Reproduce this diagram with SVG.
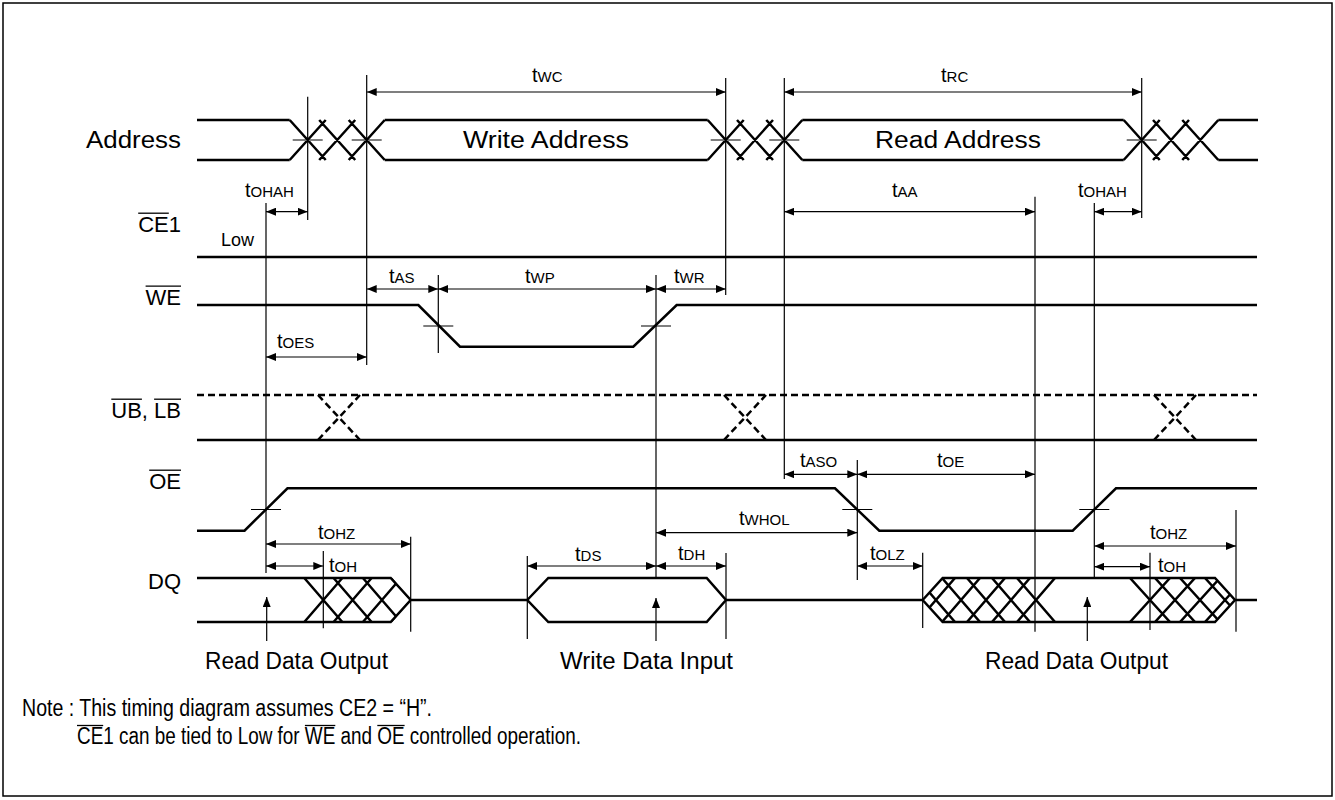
<svg xmlns="http://www.w3.org/2000/svg" width="1335" height="800" viewBox="0 0 1335 800">
<style>
.bus{stroke:#000;stroke-width:2.5;fill:none;stroke-linejoin:miter}
.thin{stroke:#000;stroke-width:1.2;fill:none}
.dash{stroke:#000;stroke-width:2.5;fill:none;stroke-dasharray:7 4}
.dim{stroke:#000;stroke-width:1.2;fill:none;marker-start:url(#ah);marker-end:url(#ah)}
.up{stroke:#000;stroke-width:1.2;fill:none;marker-end:url(#ah)}
.lbl{font-family:"Liberation Sans",Arial,sans-serif;font-size:23px;fill:#000}
.sig{font-family:"Liberation Sans",Arial,sans-serif;font-size:22px;fill:#000;text-anchor:end}
.t{font-family:"Liberation Sans",Arial,sans-serif;font-size:20px;fill:#000}
.s{font-size:15px}
.ol{stroke:#000;stroke-width:1.3}
</style>
<defs>
<marker id="ah" viewBox="0 0 10 8" refX="10" refY="4" markerWidth="10" markerHeight="8" markerUnits="userSpaceOnUse" orient="auto-start-reverse"><path d="M0,0 L10,4 L0,8 z" fill="#000"/></marker>
<clipPath id="cl1"><path d="M190,576 L390.7,576 L410.7,600 L390.7,624 L190,624 Z"/></clipPath>
<clipPath id="cl2"><path d="M922.7,600 L942.7,578 L1215,578 L1235,600 L1215,622 L942.7,622 Z"/></clipPath>
</defs>
<rect x="3" y="3" width="1329" height="793" fill="#fff" stroke="#000" stroke-width="1.5"/>

<g id="address">
<path class="bus" d="M197,120 H289.7 M384.7,120 H707.7 M802.3,120 H1123.7 M1218.3,120 H1258 M197,160 H289.7 M384.7,160 H707.7 M802.3,160 H1123.7 M1218.3,160 H1258"/>
<path class="bus" d="M289.7,120 L325.7,160 M289.7,160 L325.7,120 M319.2,120 L355.2,160 M319.2,160 L355.2,120 M348.7,120 L384.7,160 M348.7,160 L384.7,120 M707.7,120 L743.7,160 M707.7,160 L743.7,120 M737,120 L773,160 M737,160 L773,120 M766.3,120 L802.3,160 M766.3,160 L802.3,120 M1123.7,120 L1159.7,160 M1123.7,160 L1159.7,120 M1153,120 L1189,160 M1153,160 L1189,120 M1182.3,120 L1218.3,160 M1182.3,160 L1218.3,120"/>
<path class="thin" d="M292.7,140 H322.7 M351.7,140 H381.7 M710.7,140 H740.7 M769.3,140 H799.3 M1126.7,140 H1156.7"/>
<text class="lbl" x="86" y="148" textLength="95" lengthAdjust="spacingAndGlyphs">Address</text>
<text class="lbl" x="463" y="148" textLength="166" lengthAdjust="spacingAndGlyphs">Write Address</text>
<text class="lbl" x="875" y="148" textLength="166" lengthAdjust="spacingAndGlyphs">Read Address</text>
</g>

<g id="ce1">
<path class="bus" d="M197,257 H1257"/>
<text class="sig" x="181" y="232">CE1</text>
<line class="ol" x1="138.2" y1="213.2" x2="168.8" y2="213.2"/>
<text class="lbl" x="221" y="246" style="font-size:18px">Low</text>
</g>

<g id="we">
<path class="bus" d="M197,305 L418.3,305 L460,346.7 L633.3,346.7 L676.7,305 L1257,305"/>
<path class="thin" d="M423.3,326 H453.3 M641,326 H671"/>
<text class="sig" x="181" y="305">WE</text>
<line class="ol" x1="145.6" y1="286.2" x2="181" y2="286.2"/>
</g>

<g id="ublb">
<path class="dash" d="M197,395 H1257"/>
<path class="bus" d="M197,440 H1257"/>
<path class="dash" d="M318,395 L360,440 M318,440 L360,395 M724,395 L766,440 M724,440 L766,395 M1154,395 L1196,440 M1154,440 L1196,395"/>
<text class="sig" x="181" y="418">UB, LB</text>
<line class="ol" x1="111.3" y1="399.2" x2="141.9" y2="399.2"/>
<line class="ol" x1="154.1" y1="399.2" x2="181" y2="399.2"/>
</g>

<g id="oe">
<path class="bus" d="M197,530.7 L244.5,530.7 L287.5,488.3 L835,488.3 L879.3,530.7 L1072.7,530.7 L1116,488.3 L1257,488.3"/>
<path class="thin" d="M251,509.5 H281 M842.3,509.5 H872.3 M1079.3,509.5 H1109.3"/>
<text class="sig" x="181" y="489">OE</text>
<line class="ol" x1="149.2" y1="470.2" x2="181" y2="470.2"/>
</g>

<g id="dq">
<path class="bus" d="M197,578 L390.7,578 L410.7,600 L390.7,622 L197,622 M410.7,600 L527.3,600"/>
<path class="bus" d="M527.3,600 L548.3,578 L706.7,578 L726,600 L706.7,622 L548.3,622 Z M726,600 L922.7,600"/>
<path class="bus" d="M922.7,600 L942.7,578 L1215,578 L1235,600 L1215,622 L942.7,622 Z M1235,600 L1257,600"/>
<g clip-path="url(#cl1)">
<path class="bus" d="M304.3,578 L342.3,622 M304.3,622 L342.3,578 M333.6,578 L371.6,622 M333.6,622 L371.6,578 M362.9,578 L400.9,622 M362.9,622 L400.9,578 M392.2,578 L430.2,622 M392.2,622 L430.2,578"/>
</g>
<g clip-path="url(#cl2)">
<path class="bus" d="M917,578 L955,622 M917,622 L955,578 M942,578 L980,622 M942,622 L980,578 M967,578 L1005,622 M967,622 L1005,578 M992,578 L1030,622 M992,622 L1030,578 M1017,578 L1055,622 M1017,622 L1055,578"/>
<path class="bus" d="M1130,578 L1170,622 M1130,622 L1170,578 M1155,578 L1195,622 M1155,622 L1195,578 M1180,578 L1220,622 M1180,622 L1220,578 M1205,578 L1245,622 M1205,622 L1245,578"/>
</g>
<text class="sig" x="181" y="589">DQ</text>
<text class="lbl" x="205" y="669" textLength="183" lengthAdjust="spacingAndGlyphs">Read Data Output</text>
<text class="lbl" x="560" y="669" textLength="173" lengthAdjust="spacingAndGlyphs">Write Data Input</text>
<text class="lbl" x="985" y="669" textLength="183" lengthAdjust="spacingAndGlyphs">Read Data Output</text>
</g>

<g id="connectors">
<path class="thin" d="M307.7,96.7 V220 M366.7,75 V365 M725.7,78 V295 M784.3,78 V479 M1141.7,78 V218 M266,203 V573 M438.3,275 V353 M656,275 V577 M857.3,460 V580 M1035,196.7 V631.7 M1094.3,203 V577 M410.7,536.7 V631.7 M323.3,551 V628.3 M527.3,556 V639 M726,553 V639 M922.7,552.7 V628 M1236,510 V631.7 M1150,552.7 V630"/>
<line class="dim" x1="366.7" y1="92" x2="725.7" y2="92"/>
<line class="dim" x1="784.3" y1="92" x2="1141.7" y2="92"/>
<line class="dim" x1="266" y1="211.7" x2="307.7" y2="211.7"/>
<line class="dim" x1="784.3" y1="211.7" x2="1035" y2="211.7"/>
<line class="dim" x1="1094.3" y1="211.7" x2="1141.7" y2="211.7"/>
<line class="dim" x1="366.7" y1="289" x2="438.3" y2="289"/>
<line class="dim" x1="438.3" y1="289" x2="656" y2="289"/>
<line class="dim" x1="656" y1="289" x2="725.7" y2="289"/>
<line class="dim" x1="266" y1="357" x2="366.7" y2="357"/>
<line class="dim" x1="784.3" y1="474.3" x2="857.3" y2="474.3"/>
<line class="dim" x1="857.3" y1="474.3" x2="1035" y2="474.3"/>
<line class="dim" x1="656" y1="532.7" x2="857.3" y2="532.7"/>
<line class="dim" x1="266" y1="544" x2="410.7" y2="544"/>
<line class="dim" x1="266" y1="566" x2="323.3" y2="566"/>
<line class="dim" x1="527.3" y1="566" x2="656" y2="566"/>
<line class="dim" x1="656" y1="566" x2="726" y2="566"/>
<line class="dim" x1="857.3" y1="566" x2="922.7" y2="566"/>
<line class="dim" x1="1094.3" y1="546" x2="1236" y2="546"/>
<line class="dim" x1="1094.3" y1="566.7" x2="1150" y2="566.7"/>
<line class="up" x1="266.7" y1="641" x2="266.7" y2="597"/>
<line class="up" x1="656" y1="641" x2="656" y2="598"/>
<line class="up" x1="1087.3" y1="641" x2="1087.3" y2="597"/>
</g>

<g id="timing-labels">
<text class="t" x="532" y="82">t<tspan class="s">WC</tspan></text>
<text class="t" x="941" y="82">t<tspan class="s">RC</tspan></text>
<text class="t" x="245" y="197">t<tspan class="s">OHAH</tspan></text>
<text class="t" x="892" y="197">t<tspan class="s">AA</tspan></text>
<text class="t" x="1078" y="197">t<tspan class="s">OHAH</tspan></text>
<text class="t" x="389" y="283">t<tspan class="s">AS</tspan></text>
<text class="t" x="525" y="283">t<tspan class="s">WP</tspan></text>
<text class="t" x="674" y="283">t<tspan class="s">WR</tspan></text>
<text class="t" x="277" y="348">t<tspan class="s">OES</tspan></text>
<text class="t" x="800" y="467">t<tspan class="s">ASO</tspan></text>
<text class="t" x="937" y="467">t<tspan class="s">OE</tspan></text>
<text class="t" x="739" y="525">t<tspan class="s">WHOL</tspan></text>
<text class="t" x="318" y="539">t<tspan class="s">OHZ</tspan></text>
<text class="t" x="329" y="572">t<tspan class="s">OH</tspan></text>
<text class="t" x="575" y="561">t<tspan class="s">DS</tspan></text>
<text class="t" x="678" y="560">t<tspan class="s">DH</tspan></text>
<text class="t" x="870" y="560">t<tspan class="s">OLZ</tspan></text>
<text class="t" x="1150" y="539">t<tspan class="s">OHZ</tspan></text>
<text class="t" x="1158" y="572">t<tspan class="s">OH</tspan></text>
</g>

<g id="note">
<text class="lbl" x="22" y="716" textLength="410" lengthAdjust="spacingAndGlyphs">Note : This timing diagram assumes CE2 = “H”.</text>
<text class="lbl" x="77" y="744" textLength="504" lengthAdjust="spacingAndGlyphs">CE1 can be tied to Low for WE and OE controlled operation.</text>
<line class="ol" x1="77" y1="725.5" x2="103.2" y2="725.5"/>
<line class="ol" x1="304.9" y1="725.5" x2="335.3" y2="725.5"/>
<line class="ol" x1="377.3" y1="725.5" x2="404.6" y2="725.5"/>
</g>
</svg>
